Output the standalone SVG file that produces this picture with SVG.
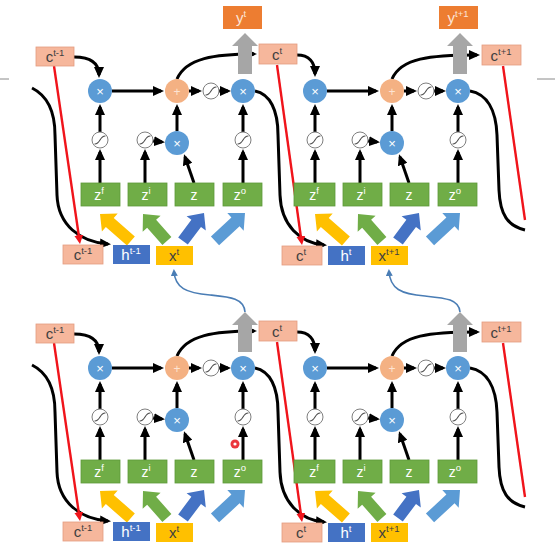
<svg xmlns="http://www.w3.org/2000/svg" xmlns:xlink="http://www.w3.org/1999/xlink" width="555" height="556" viewBox="0 0 555 556">
<defs>
<style>
.mul{fill:#5B9BD5}
.add{fill:#F4B183}
.op{fill:#fff;font-family:'Liberation Sans',sans-serif;font-size:13px;text-anchor:middle}
.opa{fill:#fde3d3;font-family:'Liberation Sans',sans-serif;font-size:12px;text-anchor:middle}
.sigc{fill:#fff;stroke:#7f7f7f;stroke-width:1}
.sigp{fill:none;stroke:#4a4a4a;stroke-width:1.1}
.cbox{fill:#F6B79C;stroke:#E39C80;stroke-width:0.8}
.gbox{fill:#70AD47;stroke:#5E9A3A;stroke-width:0.8}
.hbox{fill:#4472C4}
.xbox{fill:#FFC000}
.ybox{fill:#ED7D31}
.gray{fill:#A6A6A6}
.lbl{font-family:'Liberation Sans',sans-serif;font-size:15px;text-anchor:middle}
.zl{font-family:'Liberation Sans',sans-serif;font-size:14px;text-anchor:middle;fill:#fff}
.dk{fill:#404040}
.wt{fill:#fff}
.yt{fill:#FCE4D6}
.sup{font-size:9.5px}
.blk{fill:none;stroke:#000;stroke-width:3;marker-end:url(#ah)}
.blkn{fill:none;stroke:#000;stroke-width:3}
.red{fill:none;stroke:#F0141B;stroke-width:2.4}
.redm{fill:none;stroke:#F0141B;stroke-width:2.4;marker-end:url(#ar)}
.blue{fill:none;stroke:#4A7DB5;stroke-width:1.6;marker-end:url(#abl)}
.fy{fill:#FFC000}
.fg{fill:#70AD47}
.fb{fill:#4472C4}
.fl{fill:#5B9BD5}
</style>
<marker id="ah" markerUnits="userSpaceOnUse" markerWidth="11" markerHeight="10" viewBox="0 0 11 10" refX="8" refY="5" orient="auto"><path d="M0,0 L11,5 L0,10 z" fill="#000"/></marker>
<marker id="ar" markerUnits="userSpaceOnUse" markerWidth="9" markerHeight="9" viewBox="0 0 9 9" refX="6" refY="4.5" orient="auto"><path d="M0,0 L9,4.5 L0,9 z" fill="#F0141B"/></marker>
<marker id="abl" markerUnits="userSpaceOnUse" markerWidth="7" markerHeight="7" viewBox="0 0 7 7" refX="5" refY="3.5" orient="auto"><path d="M0,0 L7,3.5 L0,7 z" fill="#4A7DB5"/></marker>
<g id="sig"><circle class="sigc" r="8"/><path class="sigp" d="M-5.5,4 C0.5,4.5 -0.5,-4.5 5.5,-4"/></g>
<path id="fat41" d="M0,0 L-13,-12 L-13,-6 L-41,-6 L-41,6 L-13,6 L-13,12 Z"/>
</defs>

<rect width="555" height="556" fill="#fff"/>
<line x1="0" y1="79" x2="9" y2="79" stroke="#8a8a8a" stroke-width="1"/>
<line x1="537" y1="79" x2="555" y2="79" stroke="#8a8a8a" stroke-width="1"/>

<!-- ===================== CONNECTORS ===================== -->
<g id="connectors">
  <g id="conn-A">
    <path class="blk" d="M112,91 L161,91"/>
    <path class="blk" d="M189,91 L199,91"/>
    <path class="blk" d="M219,91 L228,91"/>
    <path class="blk" d="M100,132 L100,107"/>
    <path class="blk" d="M177,131 L177,107"/>
    <path class="blk" d="M243,132 L243,107"/>
    <path class="blk" d="M153,141 L162,142"/>
    <path class="blk" d="M100,183 L100,152"/>
    <path class="blk" d="M145,183 L145,152"/>
    <path class="blk" d="M194,183 L185,157"/>
    <path class="blk" d="M243,183 L243,152"/>
    <path class="fy" transform="translate(100,214) rotate(-138.9)" d="M0,0 L-13,-12 L-13,-6 L-41,-6 L-41,6 L-13,6 L-13,12 Z"/>
    <path class="fg" transform="translate(143,214) rotate(-131.6)" d="M0,0 L-13,-12 L-13,-6 L-36,-6 L-36,6 L-13,6 L-13,12 Z"/>
    <path class="fb" transform="translate(204,213) rotate(-53.1)" d="M0,0 L-13,-12 L-13,-6 L-35,-6 L-35,6 L-13,6 L-13,12 Z"/>
    <path class="fl" transform="translate(245,213) rotate(-43)" d="M0,0 L-13,-12 L-13,-6 L-41,-6 L-41,6 L-13,6 L-13,12 Z"/>
  </g>
  <g id="conn-B" transform="translate(215,0)">
    <path class="blk" d="M112,91 L161,91"/>
    <path class="blk" d="M189,91 L199,91"/>
    <path class="blk" d="M219,91 L228,91"/>
    <path class="blk" d="M100,132 L100,107"/>
    <path class="blk" d="M177,131 L177,107"/>
    <path class="blk" d="M243,132 L243,107"/>
    <path class="blk" d="M153,141 L162,142"/>
    <path class="blk" d="M100,183 L100,152"/>
    <path class="blk" d="M145,183 L145,152"/>
    <path class="blk" d="M194,183 L185,157"/>
    <path class="blk" d="M243,183 L243,152"/>
    <path class="fy" transform="translate(100,214) rotate(-138.9)" d="M0,0 L-13,-12 L-13,-6 L-41,-6 L-41,6 L-13,6 L-13,12 Z"/>
    <path class="fg" transform="translate(143,214) rotate(-131.6)" d="M0,0 L-13,-12 L-13,-6 L-36,-6 L-36,6 L-13,6 L-13,12 Z"/>
    <path class="fb" transform="translate(204,213) rotate(-53.1)" d="M0,0 L-13,-12 L-13,-6 L-35,-6 L-35,6 L-13,6 L-13,12 Z"/>
    <path class="fl" transform="translate(245,213) rotate(-43)" d="M0,0 L-13,-12 L-13,-6 L-41,-6 L-41,6 L-13,6 L-13,12 Z"/>
  </g>
  <g id="conn-C" transform="translate(0,277)">
    <path class="blk" d="M112,91 L161,91"/>
    <path class="blk" d="M189,91 L199,91"/>
    <path class="blk" d="M219,91 L228,91"/>
    <path class="blk" d="M100,132 L100,107"/>
    <path class="blk" d="M177,131 L177,107"/>
    <path class="blk" d="M243,132 L243,107"/>
    <path class="blk" d="M153,141 L162,142"/>
    <path class="blk" d="M100,183 L100,152"/>
    <path class="blk" d="M145,183 L145,152"/>
    <path class="blk" d="M194,183 L185,157"/>
    <path class="blk" d="M243,183 L243,152"/>
    <path class="fy" transform="translate(100,214) rotate(-138.9)" d="M0,0 L-13,-12 L-13,-6 L-41,-6 L-41,6 L-13,6 L-13,12 Z"/>
    <path class="fg" transform="translate(143,214) rotate(-131.6)" d="M0,0 L-13,-12 L-13,-6 L-36,-6 L-36,6 L-13,6 L-13,12 Z"/>
    <path class="fb" transform="translate(204,213) rotate(-53.1)" d="M0,0 L-13,-12 L-13,-6 L-35,-6 L-35,6 L-13,6 L-13,12 Z"/>
    <path class="fl" transform="translate(245,213) rotate(-43)" d="M0,0 L-13,-12 L-13,-6 L-41,-6 L-41,6 L-13,6 L-13,12 Z"/>
  </g>
  <g id="conn-D" transform="translate(215,277)">
    <path class="blk" d="M112,91 L161,91"/>
    <path class="blk" d="M189,91 L199,91"/>
    <path class="blk" d="M219,91 L228,91"/>
    <path class="blk" d="M100,132 L100,107"/>
    <path class="blk" d="M177,131 L177,107"/>
    <path class="blk" d="M243,132 L243,107"/>
    <path class="blk" d="M153,141 L162,142"/>
    <path class="blk" d="M100,183 L100,152"/>
    <path class="blk" d="M145,183 L145,152"/>
    <path class="blk" d="M194,183 L185,157"/>
    <path class="blk" d="M243,183 L243,152"/>
    <path class="fy" transform="translate(100,214) rotate(-138.9)" d="M0,0 L-13,-12 L-13,-6 L-41,-6 L-41,6 L-13,6 L-13,12 Z"/>
    <path class="fg" transform="translate(143,214) rotate(-131.6)" d="M0,0 L-13,-12 L-13,-6 L-36,-6 L-36,6 L-13,6 L-13,12 Z"/>
    <path class="fb" transform="translate(204,213) rotate(-53.1)" d="M0,0 L-13,-12 L-13,-6 L-35,-6 L-35,6 L-13,6 L-13,12 Z"/>
    <path class="fl" transform="translate(245,213) rotate(-43)" d="M0,0 L-13,-12 L-13,-6 L-41,-6 L-41,6 L-13,6 L-13,12 Z"/>
  </g>

  <!-- cross-cell connectors, top row -->
  <path class="blk" d="M74,57 C92,57 99,64 99,75"/>
  <path class="blk" d="M297,55 C309,55 315,62 315,74"/>
  <path class="blk" d="M177,79 C186,58 215,54 254,54"/>
  <path class="blk" d="M392,79 C401,58 430,55 477,55"/>
  <path class="blk" d="M32,88 C48,96 55,112 55,135 L57,195 C58,225 80,242 108,244"/>
  <path class="blk" d="M255,91 C270,94 278,110 278,135 L280,195 C281,225 300,243 324,245"/>
  <path class="blkn" d="M470,91 C487,94 496,110 497,135 L499,190 C500,215 508,226 525,230"/>
  <path class="redm" d="M54,66 L79.6,241"/>
  <path class="redm" d="M277,65 L301.6,242"/>
  <path class="red" d="M503,66 L525,220"/>

  <!-- cross-cell connectors, bottom row -->
  <path class="blk" d="M74,334 C92,334 99,341 99,352"/>
  <path class="blk" d="M297,332 C309,332 315,339 315,351"/>
  <path class="blk" d="M177,356 C186,335 215,331 254,331"/>
  <path class="blk" d="M392,356 C401,335 430,332 477,332"/>
  <path class="blk" d="M32,365 C48,373 55,389 55,412 L57,472 C58,502 80,519 108,521"/>
  <path class="blk" d="M255,368 C270,371 278,387 278,412 L280,472 C281,502 300,520 324,522"/>
  <path class="blkn" d="M470,368 C487,371 496,387 497,412 L499,467 C500,492 508,503 525,507"/>
  <path class="redm" d="M54,343 L79.6,518"/>
  <path class="redm" d="M277,342 L301.6,519"/>
  <path class="red" d="M503,343 L525,497"/>

  <!-- blue feedback connectors -->
  <path class="blue" d="M245,312 C244,298 230,297 210,295 C186,293 175,288 174,271"/>
  <path class="blue" d="M460,312 C459,299 445,298 425,296 C401,294 390,289 389,271"/>
</g>

<!-- ===================== NODES ===================== -->
<g id="y-t"><rect class="ybox" x="223" y="6" width="39" height="23"/><text class="lbl yt" x="241" y="23">y<tspan class="sup" dy="-6">t</tspan></text></g>
<g id="y-t1"><rect class="ybox" x="439" y="6" width="39" height="23"/><text class="lbl yt" x="458" y="23">y<tspan class="sup" dy="-6">t+1</tspan></text></g>
<g id="out-A"><path class="gray" d="M245,33 L258,46 L252,46 L252,74 L238,74 L238,46 L232,46 Z"/></g>
<g id="out-B"><path class="gray" d="M460,33 L473,46 L467,46 L467,74 L453,74 L453,46 L447,46 Z"/></g>
<g id="out-C"><path class="gray" d="M245,312 L258,325 L252,325 L252,352 L238,352 L238,325 L232,325 Z"/></g>
<g id="out-D"><path class="gray" d="M460,312 L473,325 L467,325 L467,352 L453,352 L453,325 L447,325 Z"/></g>

<g id="c-top-tm1"><rect class="cbox" x="36" y="47" width="38" height="19"/><text class="lbl dk" x="55" y="62">c<tspan class="sup" dy="-6">t-1</tspan></text></g>
<g id="c-top-t"><rect class="cbox" x="259" y="44" width="38" height="20"/><text class="lbl dk" x="277" y="60">c<tspan class="sup" dy="-6">t</tspan></text></g>
<g id="c-top-t1"><rect class="cbox" x="482" y="45" width="39" height="20"/><text class="lbl dk" x="501" y="61">c<tspan class="sup" dy="-6">t+1</tspan></text></g>
<g id="c-in-A"><rect class="cbox" x="63" y="245" width="40" height="19"/><text class="lbl dk" x="83" y="260">c<tspan class="sup" dy="-6">t-1</tspan></text></g>
<g id="c-in-B"><rect class="cbox" x="282" y="246" width="40" height="19"/><text class="lbl dk" x="301" y="261">c<tspan class="sup" dy="-6">t</tspan></text></g>
<g id="c-bot-tm1"><rect class="cbox" x="36" y="324" width="38" height="19"/><text class="lbl dk" x="55" y="339">c<tspan class="sup" dy="-6">t-1</tspan></text></g>
<g id="c-bot-t"><rect class="cbox" x="259" y="321" width="38" height="20"/><text class="lbl dk" x="277" y="337">c<tspan class="sup" dy="-6">t</tspan></text></g>
<g id="c-bot-t1"><rect class="cbox" x="482" y="322" width="39" height="20"/><text class="lbl dk" x="501" y="338">c<tspan class="sup" dy="-6">t+1</tspan></text></g>
<g id="c-in-C"><rect class="cbox" x="63" y="522" width="40" height="19"/><text class="lbl dk" x="83" y="537">c<tspan class="sup" dy="-6">t-1</tspan></text></g>
<g id="c-in-D"><rect class="cbox" x="282" y="523" width="40" height="19"/><text class="lbl dk" x="301" y="538">c<tspan class="sup" dy="-6">t</tspan></text></g>

<g id="cellA">
  <g id="A-fx"><circle class="mul" cx="100" cy="91" r="12"/><text class="op" x="100" y="95.5">×</text></g>
  <g id="A-add"><circle class="add" cx="177" cy="91" r="12"/><text class="opa" x="177" y="95.5">+</text></g>
  <g id="A-tanh"><use xlink:href="#sig" href="#sig" x="211" y="91"/></g>
  <g id="A-ox"><circle class="mul" cx="243" cy="91" r="12"/><text class="op" x="243" y="95.5">×</text></g>
  <g id="A-ix"><circle class="mul" cx="177" cy="143" r="12"/><text class="op" x="177" y="147.5">×</text></g>
  <g id="A-sf"><use xlink:href="#sig" href="#sig" x="100" y="140"/></g>
  <g id="A-si"><use xlink:href="#sig" href="#sig" x="145" y="140"/></g>
  <g id="A-so"><use xlink:href="#sig" href="#sig" x="243" y="140"/></g>
  <g id="A-zf"><rect class="gbox" x="81" y="183" width="39" height="23"/><text class="zl" x="99" y="200">z<tspan class="sup" dy="-6">f</tspan></text></g>
  <g id="A-zi"><rect class="gbox" x="128" y="183" width="39" height="23"/><text class="zl" x="146" y="200">z<tspan class="sup" dy="-6">i</tspan></text></g>
  <g id="A-z"><rect class="gbox" x="175" y="183" width="39" height="23"/><text class="zl" x="194" y="200">z</text></g>
  <g id="A-zo"><rect class="gbox" x="223" y="183" width="39" height="23"/><text class="zl" x="240" y="200">z<tspan class="sup" dy="-6">o</tspan></text></g>
  <g id="A-h"><rect class="hbox" x="113" y="245" width="37" height="19"/><text class="lbl wt" x="131" y="260">h<tspan class="sup" dy="-6">t-1</tspan></text></g>
  <g id="A-x"><rect class="xbox" x="156" y="246" width="37" height="19"/><text class="lbl dk" x="174" y="261">x<tspan class="sup" dy="-6">t</tspan></text></g>
</g>

<g id="cellB" transform="translate(215,0)">
  <g id="B-fx"><circle class="mul" cx="100" cy="91" r="12"/><text class="op" x="100" y="95.5">×</text></g>
  <g id="B-add"><circle class="add" cx="177" cy="91" r="12"/><text class="opa" x="177" y="95.5">+</text></g>
  <g id="B-tanh"><use xlink:href="#sig" href="#sig" x="211" y="91"/></g>
  <g id="B-ox"><circle class="mul" cx="243" cy="91" r="12"/><text class="op" x="243" y="95.5">×</text></g>
  <g id="B-ix"><circle class="mul" cx="177" cy="143" r="12"/><text class="op" x="177" y="147.5">×</text></g>
  <g id="B-sf"><use xlink:href="#sig" href="#sig" x="100" y="140"/></g>
  <g id="B-si"><use xlink:href="#sig" href="#sig" x="145" y="140"/></g>
  <g id="B-so"><use xlink:href="#sig" href="#sig" x="243" y="140"/></g>
  <g id="B-zf"><rect class="gbox" x="79" y="183" width="41" height="23"/><text class="zl" x="99" y="200">z<tspan class="sup" dy="-6">f</tspan></text></g>
  <g id="B-zi"><rect class="gbox" x="128" y="183" width="39" height="23"/><text class="zl" x="146" y="200">z<tspan class="sup" dy="-6">i</tspan></text></g>
  <g id="B-z"><rect class="gbox" x="175" y="183" width="39" height="23"/><text class="zl" x="194" y="200">z</text></g>
  <g id="B-zo"><rect class="gbox" x="223" y="183" width="39" height="23"/><text class="zl" x="240" y="200">z<tspan class="sup" dy="-6">o</tspan></text></g>
  <g id="B-h"><rect class="hbox" x="113" y="246" width="37" height="19"/><text class="lbl wt" x="131" y="261">h<tspan class="sup" dy="-6">t</tspan></text></g>
  <g id="B-x"><rect class="xbox" x="156" y="246" width="37" height="19"/><text class="lbl dk" x="174" y="261">x<tspan class="sup" dy="-6">t+1</tspan></text></g>
</g>

<g id="cellC" transform="translate(0,277)">
  <g id="C-fx"><circle class="mul" cx="100" cy="91" r="12"/><text class="op" x="100" y="95.5">×</text></g>
  <g id="C-add"><circle class="add" cx="177" cy="91" r="12"/><text class="opa" x="177" y="95.5">+</text></g>
  <g id="C-tanh"><use xlink:href="#sig" href="#sig" x="211" y="91"/></g>
  <g id="C-ox"><circle class="mul" cx="243" cy="91" r="12"/><text class="op" x="243" y="95.5">×</text></g>
  <g id="C-ix"><circle class="mul" cx="177" cy="143" r="12"/><text class="op" x="177" y="147.5">×</text></g>
  <g id="C-sf"><use xlink:href="#sig" href="#sig" x="100" y="140"/></g>
  <g id="C-si"><use xlink:href="#sig" href="#sig" x="145" y="140"/></g>
  <g id="C-so"><use xlink:href="#sig" href="#sig" x="243" y="140"/></g>
  <g id="C-zf"><rect class="gbox" x="81" y="183" width="39" height="23"/><text class="zl" x="99" y="200">z<tspan class="sup" dy="-6">f</tspan></text></g>
  <g id="C-zi"><rect class="gbox" x="128" y="183" width="39" height="23"/><text class="zl" x="146" y="200">z<tspan class="sup" dy="-6">i</tspan></text></g>
  <g id="C-z"><rect class="gbox" x="175" y="183" width="39" height="23"/><text class="zl" x="194" y="200">z</text></g>
  <g id="C-zo"><rect class="gbox" x="223" y="183" width="39" height="23"/><text class="zl" x="240" y="200">z<tspan class="sup" dy="-6">o</tspan></text></g>
  <g id="C-h"><rect class="hbox" x="113" y="245" width="37" height="19"/><text class="lbl wt" x="131" y="260">h<tspan class="sup" dy="-6">t-1</tspan></text></g>
  <g id="C-x"><rect class="xbox" x="156" y="246" width="37" height="19"/><text class="lbl dk" x="174" y="261">x<tspan class="sup" dy="-6">t</tspan></text></g>
</g>

<g id="cellD" transform="translate(215,277)">
  <g id="D-fx"><circle class="mul" cx="100" cy="91" r="12"/><text class="op" x="100" y="95.5">×</text></g>
  <g id="D-add"><circle class="add" cx="177" cy="91" r="12"/><text class="opa" x="177" y="95.5">+</text></g>
  <g id="D-tanh"><use xlink:href="#sig" href="#sig" x="211" y="91"/></g>
  <g id="D-ox"><circle class="mul" cx="243" cy="91" r="12"/><text class="op" x="243" y="95.5">×</text></g>
  <g id="D-ix"><circle class="mul" cx="177" cy="143" r="12"/><text class="op" x="177" y="147.5">×</text></g>
  <g id="D-sf"><use xlink:href="#sig" href="#sig" x="100" y="140"/></g>
  <g id="D-si"><use xlink:href="#sig" href="#sig" x="145" y="140"/></g>
  <g id="D-so"><use xlink:href="#sig" href="#sig" x="243" y="140"/></g>
  <g id="D-zf"><rect class="gbox" x="79" y="183" width="41" height="23"/><text class="zl" x="99" y="200">z<tspan class="sup" dy="-6">f</tspan></text></g>
  <g id="D-zi"><rect class="gbox" x="128" y="183" width="39" height="23"/><text class="zl" x="146" y="200">z<tspan class="sup" dy="-6">i</tspan></text></g>
  <g id="D-z"><rect class="gbox" x="175" y="183" width="39" height="23"/><text class="zl" x="194" y="200">z</text></g>
  <g id="D-zo"><rect class="gbox" x="223" y="183" width="39" height="23"/><text class="zl" x="240" y="200">z<tspan class="sup" dy="-6">o</tspan></text></g>
  <g id="D-h"><rect class="hbox" x="113" y="246" width="37" height="19"/><text class="lbl wt" x="131" y="261">h<tspan class="sup" dy="-6">t</tspan></text></g>
  <g id="D-x"><rect class="xbox" x="156" y="246" width="37" height="19"/><text class="lbl dk" x="174" y="261">x<tspan class="sup" dy="-6">t+1</tspan></text></g>
</g>

<g id="pointer"><circle cx="235" cy="444" r="4.5" fill="#E8141B" opacity="0.85"/><circle cx="235" cy="444" r="1.6" fill="#fff"/></g>
</svg>
